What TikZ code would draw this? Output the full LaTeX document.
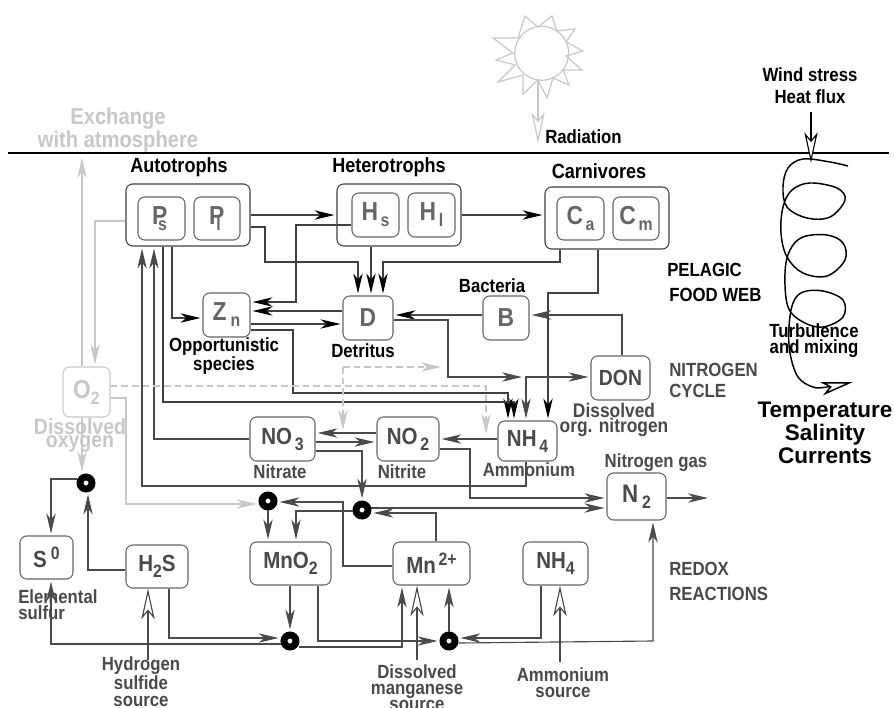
\documentclass[tikz,border=0pt]{standalone}
\usepackage{fontspec}
\setmainfont[FakeStretch=0.88]{Liberation Sans}
\newfontfamily\widesans{Liberation Sans}
\usetikzlibrary{arrows.meta}
\definecolor{lgray}{HTML}{C8C8C8}
\definecolor{mgray}{HTML}{666666}
\definecolor{dgray}{HTML}{4A4A4A}
\newcommand{\sbl}[2]{#1\lower4.5pt\hbox{\fontsize{13.5pt}{13.5pt}\selectfont #2}}
\newcommand{\spl}[2]{#1\raise6pt\hbox{\fontsize{13.5pt}{13.5pt}\selectfont #2}}
\begin{document}
\begin{tikzpicture}[x=0.75pt,y=-0.75pt,
      every node/.style={font=\bfseries},
      wh/.style 2 args={minimum width=#1*0.75pt, minimum height=#2*0.75pt},
      grp/.style={draw=black!75, rounded corners=5pt, line width=0.8pt, inner sep=0pt},
      sbox/.style={draw=mgray, rounded corners=5pt, line width=0.8pt, inner sep=0pt,
        text=mgray, font=\fontsize{19.5pt}{19.5pt}\selectfont\bfseries},
      nbox/.style={sbox, text=dgray, font=\fontsize{17.5pt}{17.5pt}\selectfont\bfseries},
      ring/.style={circle, draw=black, fill=white, line width=5.2pt, minimum size=9pt, inner sep=0pt},
      tlab/.style={inner sep=0pt, align=center, font=\fontsize{14.3pt}{12pt}\selectfont\bfseries},
      glab/.style={tlab, text=dgray},
      hlab/.style={tlab, font=\fontsize{15.4pt}{14pt}\selectfont\bfseries},
      llab/.style={inner sep=0pt, align=center, text=lgray, font=\fontsize{17.2pt}{13.5pt}\selectfont\bfseries},
      hd/.tip={Stealth[length=15pt,width=7pt,inset=4.5pt]},
      op/.tip={Stealth[open,fill=white,length=23pt,width=10pt,inset=6pt]},
      lk/.style={draw=dgray, line width=0.85pt, shorten >=1.5pt, -{hd[color=dgray]}},
      lkb/.style={draw=black!75, line width=0.85pt, shorten >=1.5pt, -{hd[color=black]}},
      lkl/.style={draw=lgray, line width=0.85pt, shorten >=1.5pt, -{hd[color=lgray]}},
      lkd/.style={lkl, dash pattern=on 5pt off 3pt},
      src/.style={draw=dgray, line width=0.85pt, -{op[color=dgray]}},
    ]
    \useasboundingbox (0,0) rectangle (894,708);

    % sea surface and sun
    \coordinate (sl) at (8,153);
    \coordinate (sr) at (889,153);
    \draw[line width=2pt] (sl) -- (sr);
    \node[circle, draw=lgray, line width=0.9pt, minimum size=40.5pt, inner sep=0pt] (sun) at (541.7,53.3) {};
    \draw[lgray, line width=0.9pt, line join=miter] (525,16) -- (538,27) -- (552,16) -- (557,31) -- (575,29)
      -- (566,42) -- (583,51) -- (566,56) -- (582,70) -- (563,70) -- (569,85) -- (553,78) -- (547,98)
      -- (538,80) -- (523,94) -- (523,75) -- (498,82) -- (515,65) -- (496,60) -- (513,53) -- (493,38)
      -- (518,38) -- cycle;

    % food web
    \node[grp, wh={124}{62}] (auto) at (188,215) {};
    \node[grp, wh={124}{62}] (hetero) at (399,215) {};
    \node[grp, wh={124}{62}] (carn) at (607,218) {};
    \node[sbox, wh={47}{43}] (ps) at (161.5,218.5) {\sbl{P\kern-7pt}{s}\kern3pt};
    \node[sbox, wh={46}{43}] (pl) at (217,218.5) {\sbl{P\kern-6pt}{l}\kern3pt};
    \node[sbox, wh={47}{44}] (hs) at (375.5,215) {\sbl{H\kern2pt}{s}};
    \node[sbox, wh={47}{44}] (hl) at (431.5,215) {\sbl{H\kern2pt}{l}};
    \node[sbox, wh={47}{43}] (ca) at (580.5,218.5) {\sbl{C\kern2pt}{a}};
    \node[sbox, wh={46}{43}] (cm) at (636,218.5) {\sbl{C\kern2pt}{m}};
    \node[sbox, wh={47}{44}] (zn) at (226.5,315) {\sbl{Z\kern3pt}{n}};
    \node[sbox, wh={50}{44}] (det) at (368,318) {D};
    \node[sbox, wh={46}{44}] (bact) at (506,318) {B};
    \node[nbox, wh={59}{44}, font=\fontsize{16.5pt}{16.5pt}\selectfont\bfseries] (don) at (620.5,378) {DON};

    % nitrogen and redox species
    \node[sbox, wh={47}{50}, draw=lgray, text=lgray] (otwo) at (86.5,392) {\sbl{O}{2}};
    \node[nbox, wh={65}{44}] (nthree) at (282.5,439) {\sbl{NO\kern2pt}{3}};
    \node[nbox, wh={62}{44}] (ntwo) at (408,439) {\sbl{NO\kern2pt}{2}};
    \node[nbox, wh={59}{40}] (nhf) at (527.5,441) {\sbl{NH\kern2pt}{4}};
    \node[nbox, wh={59}{47}, font=\fontsize{19pt}{19pt}\selectfont\bfseries] (ngas) at (636.5,496.5) {\sbl{N\kern3pt}{2}};
    \node[nbox, wh={53}{43}] (szero) at (46.5,557.5) {\spl{S\kern3pt}{0}};
    \node[nbox, wh={62}{43}] (hts) at (157,566.5) {\sbl{H}{2}S};
    \node[nbox, wh={81}{43}] (mno) at (290.5,563.5) {\sbl{MnO}{2}};
    \node[nbox, wh={77}{43}] (mnp) at (431.5,563.5) {\spl{Mn\kern2pt}{2+}};
    \node[nbox, wh={65}{43}] (nhs) at (555.5,563.5) {\sbl{NH}{4}};

    \foreach \nm/\cx/\cy in {ka/86/483, kb/268/501, kc/362/510, kd/290/641, ke/449/641}
      \node[ring] (\nm) at (\cx,\cy) {};

    % pelagic links
    \draw[lkb] (auto.east |- 0,215) -- (hetero.west |- 0,215);
    \draw[lkb] (hetero.east |- 0,215) -- (carn.west |- 0,215);
    \draw[lkb] (auto.east |- 0,227) -- (265,227) -- (265,262) -- (358,262) -- (det.north -| 358,0);
    \draw[lkb] (hetero.south -| 371,0) -- (det.north -| 371,0);
    \draw[lkb] (carn.south -| 560,0) -- (560,262) -- (383,262) -- (det.north -| 383,0);
    \draw[lkb] (hs.west |- 0,225) -- (296,225) -- (296,302) -- (zn.east |- 0,302);
    \draw[lkb] (det.west |- 0,311) -- (zn.east |- 0,311);
    \draw[lkb] (zn.east |- 0,324) -- (det.west |- 0,324);
    \draw[lkb] (auto.south -| 172,0) -- (172,318) -- (zn.west |- 0,318);
    \draw[lkb] (zn.east |- 0,330) -- (293,330) -- (293,393) -- (508,393) -- (nhf.north -| 508,0);
    \draw[lkb] (auto.south -| 163,0) -- (163,402) -- (514,402) -- (nhf.north -| 514,0);
    \draw[lkb] (carn.south -| 598,0) -- (598,293) -- (548,293) -- (nhf.north -| 548,0);
    \draw[lk] (don.north -| 622,0) -- (622,315) -- (bact.east |- 0,315);
    \draw[lkb, draw=dgray] (bact.west |- 0,315) -- (det.east |- 0,315);
    \coordinate (dend) at (524,377);
    \draw[lk] (det.east |- 0,320) -- (448,320) -- (448,377) -- (dend);
    \draw[lk, {hd[color=dgray]}-{hd[color=dgray]}, shorten <=1.5pt] (nhf.north -| 526,0) -- (526,377) -- (don.west |- 0,377);

    % nitrogen links
    \draw[lk] (nhf.south -| 526,0) -- (526,486) -- (142,486) -- (auto.south -| 142,0);
    \draw[lk] (nthree.west |- 0,439) -- (154,439) -- (auto.south -| 154,0);
    \draw[lk] (nthree.east |- 0,442) -- (ntwo.west |- 0,442);
    \draw[lk] (ntwo.west |- 0,433) -- (nthree.east |- 0,433);
    \draw[lk] (nhf.west |- 0,439) -- (ntwo.east |- 0,439);
    \draw[lk] (ntwo.east |- 0,449) -- (470,449) -- (470,498) -- (ngas.west |- 0,498);
    \draw[lk] (kc.east |- 0,508) -- (ngas.west |- 0,508);
    \draw[lk] (nthree.east |- 0,451) -- (362,451) -- (kc.north);
    \coordinate (nout) at (710,498);
    \draw[lk] (ngas.east |- 0,498) -- (nout);

    % oxygen links
    \coordinate (atm) at (82,156);
    \draw[lkl] (otwo.north -| 82,0) -- (atm);
    \draw[lkl] (auto.west |- 0,221) -- (95,221) -- (otwo.north -| 95,0);
    \draw[lkl] (otwo.south -| 82,0) -- (ka.north -| 82,0);
    \draw[lkl] (otwo.east |- 0,398) -- (126,398) -- (126,504) -- (kb.west |- 0,504);
    \coordinate (dnh) at (486,436);
    \draw[lkd] (otwo.east |- 0,386) -- (486,386) -- (dnh);
    \coordinate (dtop) at (343,367);
    \coordinate (dhead) at (443,367);
    \coordinate (dlow) at (343,432);
    \draw[lkd] (dtop) -- (dhead);
    \draw[lkd] (dtop) -- (dlow);

    % redox links
    \draw[lk] (ka.west |- 0,479) -- (51,479) -- (szero.north -| 51,0);
    \draw[lk] (hts.west |- 0,570) -- (88,570) -- (ka.south -| 88,0);
    \draw[lk] (kd.west |- 0,644) -- (51,644) -- (szero.south -| 51,0);
    \draw[lk] (hts.south -| 169,0) -- (169,638) -- (kd.west |- 0,638);
    \draw[lk] (mno.south -| 290,0) -- (kd.north);
    \draw[lk] (mno.south -| 318,0) -- (318,641) -- (ke.west);
    \draw[lk] (kd.east |- 0,647) -- (402,647) -- (mnp.south -| 402,0);
    \draw[lk] (ke.north) -- (mnp.south -| 449,0);
    \draw[lk] (nhs.south -| 541,0) -- (541,638) -- (ke.east |- 0,638);
    \draw[lk] (ke.east |- 0,643) -- (653,641) -- (ngas.south -| 653,0);
    \draw[lk] (kb.south) -- (mno.north -| 268,0);
    \draw[lk] (kc.west |- 0,511) -- (296,511) -- (mno.north -| 296,0);
    \draw[lk] (mnp.west |- 0,566) -- (343,566) -- (343,502) -- (kb.east |- 0,502);
    \draw[lk] (mnp.north -| 436,0) -- (436,513) -- (kc.east |- 0,513);

    % open arrows
    \coordinate (shs) at (148,660);
    \coordinate (smn) at (417,660);
    \coordinate (snh) at (560,662);
    \draw[src] (shs) -- (hts.south -| 148,0);
    \draw[src] (smn) -- (mnp.south -| 417,0);
    \draw[src] (snh) -- (nhs.south -| 560,0);
    \coordinate (wtop) at (811,112);
    \coordinate (wend) at (811,163);
    \draw[draw=black, line width=0.85pt, -{op[color=black]}] (wtop) -- (wend);
    \coordinate (rend) at (538,143);
    \draw[draw=lgray, line width=0.9pt, -{op[color=lgray]}] (sun.south -| 538,0) -- (rend);

    % mixing curve
    \draw[line width=1.1pt, -{Stealth[open,fill=white,length=24pt,width=10pt,inset=6pt]}] plot[smooth, tension=0.6] coordinates {
      (848,166) (830,162) (803,159) (788,168) (783,187) (787,207) (807,218) (830,217) (845,200)
      (837,188) (810,183) (792,190) (783,207) (781,233) (787,257) (803,273) (827,276) (845,260)
      (843,243) (827,235) (803,237) (790,250) (785,273) (788,307) (803,322) (823,327) (843,317)
      (843,300) (823,291) (803,292) (793,303) (789,327) (790,353) (798,377) (813,387) (827,387) (853,382)};

    % labels
    \node[llab] (lexch) at (118,130) {Exchange\\with atmosphere};
    \node[hlab] (lauto) at (179,167) {Autotrophs};
    \node[hlab] (lhet) at (389,167) {Heterotrophs};
    \node[hlab] (lcarn) at (599,171) {Carnivores};
    \node[tlab] (lrad) at (583.5,137) {Radiation};
    \node[tlab, font=\fontsize{14.3pt}{16.5pt}\selectfont\bfseries] (lwind) at (810,86) {Wind stress\\Heat flux};
    \node[tlab, anchor=west] (lpel) at (667,270) {PELAGIC};
    \node[tlab, anchor=west] (lfood) at (669,295) {FOOD WEB};
    \node[glab, anchor=west] (lnit) at (669,370) {NITROGEN};
    \node[glab, anchor=west] (lcyc) at (669,391) {CYCLE};
    \node[glab, anchor=west] (lred) at (669,569) {REDOX};
    \node[glab, anchor=west] (lrea) at (669,594) {REACTIONS};
    \node[tlab] (lbac) at (492,286) {Bacteria};
    \node[tlab] (ldet) at (363,351) {Detritus};
    \node[tlab] (lopp) at (224,356) {Opportunistic\\species};
    \node[tlab] (ltur) at (814,341) {Turbulence\\and mixing};
    \node[tlab, font=\widesans\fontsize{16.9pt}{17.2pt}\selectfont\bfseries] (ltem) at (825,433) {Temperature\\Salinity\\Currents};
    \node[llab, font=\fontsize{16.6pt}{10pt}\selectfont\bfseries] (lox) at (80,435) {Dissolved\\oxygen};
    \node[glab] (lnat) at (280,472) {Nitrate};
    \node[glab] (lnit2) at (402,472) {Nitrite};
    \node[glab] (lamm) at (529,470) {Ammonium};
    \node[glab, font=\fontsize{14.8pt}{10pt}\selectfont\bfseries] (ldon) at (614,420) {Dissolved\\org. nitrogen};
    \node[glab] (lngas) at (656,463) {Nitrogen gas};
    \node[glab, align=left, anchor=west] (lel) at (18,605) {Elemental\\sulfur};
    \node[glab, font=\fontsize{14.3pt}{12.6pt}\selectfont\bfseries] (lhy) at (141,681.5) {Hydrogen\\sulfide\\source};
    \node[glab] (lmn) at (417,688) {Dissolved\\manganese\\source};
    \node[glab] (lam) at (563,683) {Ammonium\\source};
\end{tikzpicture}
\end{document}
